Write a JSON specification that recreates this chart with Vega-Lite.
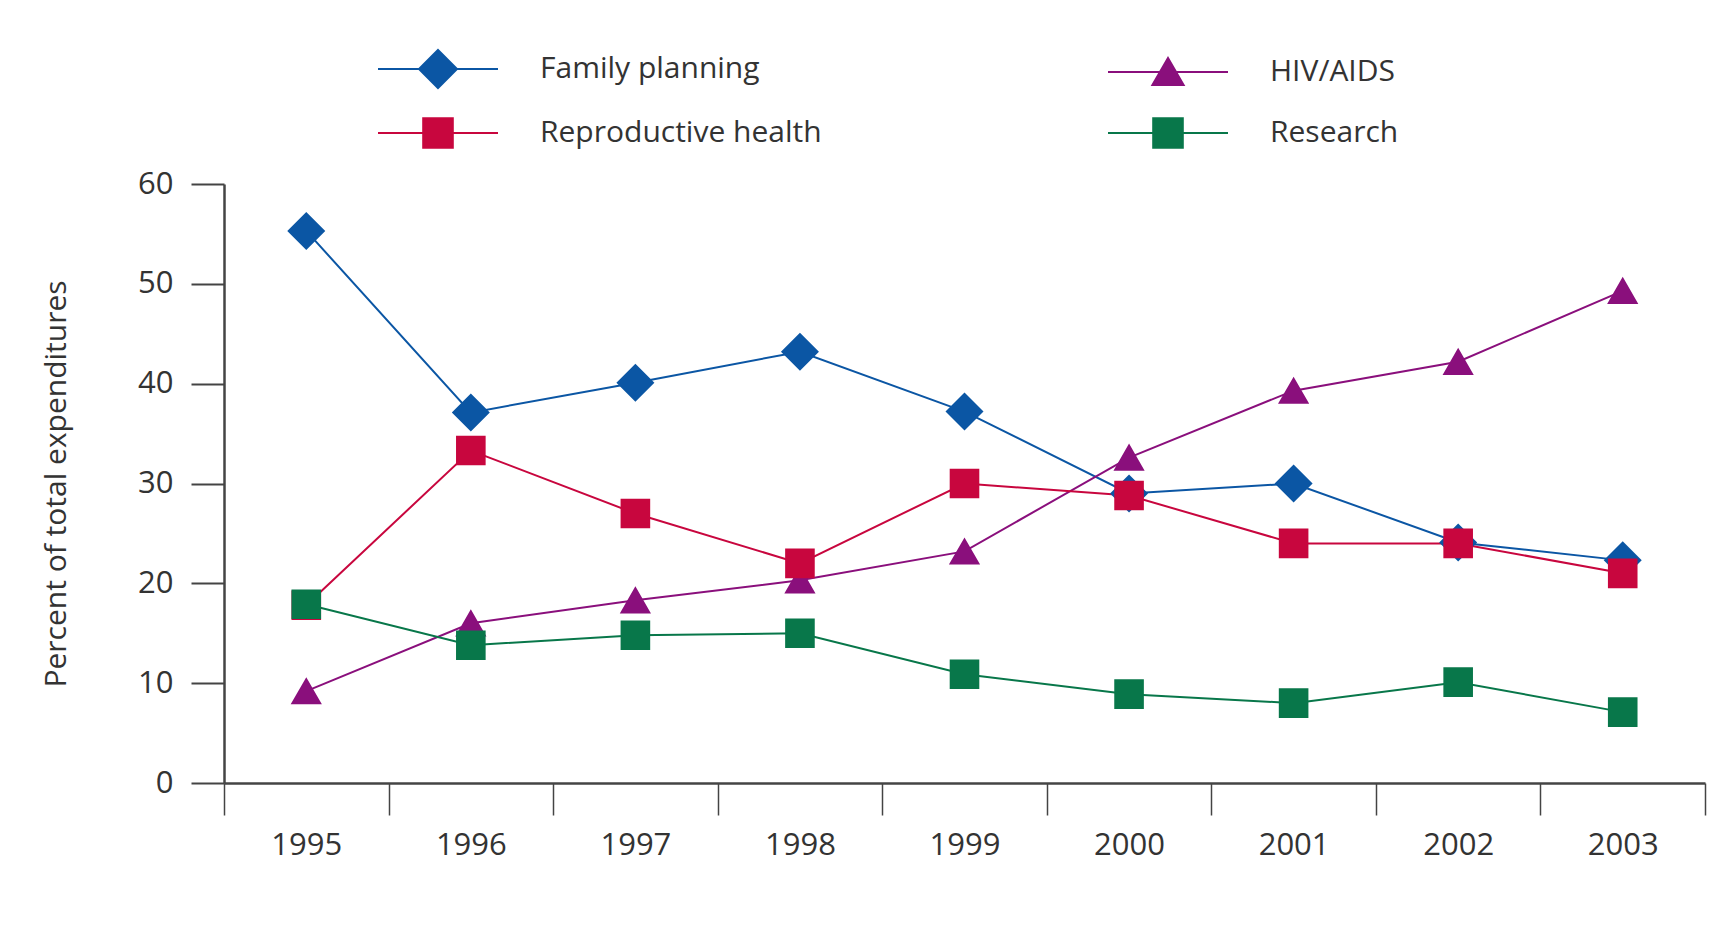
{
  "$schema": "https://vega.github.io/schema/vega-lite/v6.json",
  "width": 1481,
  "height": 599,
  "autosize": {"type": "none"},
  "padding": {"left": 224, "top": 184, "right": 28, "bottom": 150},
  "background": "white",
  "config": {"view": {"stroke": null}, "font": "Open Sans"},
  "data": {
    "values": [
      {"year": "1995", "series": "Family planning", "value": 55.3},
      {"year": "1996", "series": "Family planning", "value": 37.1},
      {"year": "1997", "series": "Family planning", "value": 40.1},
      {"year": "1998", "series": "Family planning", "value": 43.2},
      {"year": "1999", "series": "Family planning", "value": 37.2},
      {"year": "2000", "series": "Family planning", "value": 29.0},
      {"year": "2001", "series": "Family planning", "value": 30.0},
      {"year": "2002", "series": "Family planning", "value": 24.1},
      {"year": "2003", "series": "Family planning", "value": 22.3},
      {"year": "1995", "series": "HIV/AIDS", "value": 9.2},
      {"year": "1996", "series": "HIV/AIDS", "value": 16.0},
      {"year": "1997", "series": "HIV/AIDS", "value": 18.3},
      {"year": "1998", "series": "HIV/AIDS", "value": 20.3},
      {"year": "1999", "series": "HIV/AIDS", "value": 23.2},
      {"year": "2000", "series": "HIV/AIDS", "value": 32.6},
      {"year": "2001", "series": "HIV/AIDS", "value": 39.3},
      {"year": "2002", "series": "HIV/AIDS", "value": 42.2},
      {"year": "2003", "series": "HIV/AIDS", "value": 49.3},
      {"year": "1995", "series": "Reproductive health", "value": 17.8},
      {"year": "1996", "series": "Reproductive health", "value": 33.3},
      {"year": "1997", "series": "Reproductive health", "value": 27.0},
      {"year": "1998", "series": "Reproductive health", "value": 22.0},
      {"year": "1999", "series": "Reproductive health", "value": 30.0},
      {"year": "2000", "series": "Reproductive health", "value": 28.8},
      {"year": "2001", "series": "Reproductive health", "value": 24.0},
      {"year": "2002", "series": "Reproductive health", "value": 24.0},
      {"year": "2003", "series": "Reproductive health", "value": 21.0},
      {"year": "1995", "series": "Research", "value": 17.9},
      {"year": "1996", "series": "Research", "value": 13.8},
      {"year": "1997", "series": "Research", "value": 14.8},
      {"year": "1998", "series": "Research", "value": 15.0},
      {"year": "1999", "series": "Research", "value": 10.9},
      {"year": "2000", "series": "Research", "value": 8.9},
      {"year": "2001", "series": "Research", "value": 8.0},
      {"year": "2002", "series": "Research", "value": 10.1},
      {"year": "2003", "series": "Research", "value": 7.1}
    ]
  },
  "encoding": {
    "x": {
      "field": "year",
      "type": "ordinal",
      "scale": {"type": "band", "paddingInner": 0, "paddingOuter": 0},
      "axis": {
        "title": null,
        "tickBand": "extent",
        "labelAngle": 0,
        "tickSize": 32,
        "tickColor": "#444444",
        "tickWidth": 1.5,
        "domainColor": "#444444",
        "domainWidth": 2.5,
        "labelFont": "Open Sans",
        "labelFontSize": 31,
        "labelColor": "#333333",
        "labelPadding": 15
      }
    },
    "y": {
      "field": "value",
      "type": "quantitative",
      "scale": {"domain": [0, 60]},
      "axis": {
        "title": "Percent of total expenditures",
        "values": [0, 10, 20, 30, 40, 50, 60],
        "grid": false,
        "tickSize": 33,
        "tickColor": "#444444",
        "tickWidth": 2,
        "domainColor": "#444444",
        "domainWidth": 2.5,
        "labelFont": "Open Sans",
        "labelFontSize": 31,
        "labelColor": "#333333",
        "labelPadding": 18,
        "titleFont": "Open Sans",
        "titleFontSize": 30,
        "titleFontWeight": "normal",
        "titleColor": "#333333",
        "titlePadding": 66
      }
    },
    "color": {
      "field": "series",
      "type": "nominal",
      "scale": {
        "domain": ["Family planning", "HIV/AIDS", "Reproductive health", "Research"],
        "range": ["#0b56a4", "#8a0f7c", "#c8063e", "#08774a"]
      },
      "legend": {
        "orient": "none",
        "legendX": 193,
        "legendY": -136,
        "direction": "horizontal",
        "columns": 2,
        "title": null,
        "columnPadding": 282,
        "rowPadding": 20,
        "symbolSize": 1600,
        "symbolStrokeWidth": 2,
        "labelFont": "Open Sans",
        "labelFontSize": 30,
        "labelOffset": 81,
        "labelLimit": 500,
        "labelColor": "#333333"
      }
    }
  },
  "layer": [
    {
      "mark": {"type": "line", "strokeWidth": 2}
    },
    {
      "mark": {"type": "point", "filled": true, "opacity": 1, "size": 1600},
      "encoding": {
        "shape": {
          "field": "series",
          "type": "nominal",
          "scale": {
            "domain": ["Family planning", "HIV/AIDS", "Reproductive health", "Research"],
            "range": [
              "M-3,0H3M0,-0.95L0.95,0L0,0.95L-0.95,0Z",
              "M-3,0H3M0,-0.7L0.78,0.66H-0.78Z",
              "M-3,0H3M-0.74,-0.74H0.74V0.74H-0.74Z",
              "M-3,0H3M-0.74,-0.74H0.74V0.74H-0.74Z"
            ]
          },
          "legend": {
            "orient": "none",
            "legendX": 193,
            "legendY": -136,
            "direction": "horizontal",
            "columns": 2,
            "title": null,
            "columnPadding": 282,
            "rowPadding": 20,
            "symbolSize": 1600,
            "symbolStrokeWidth": 2,
            "labelFont": "Open Sans",
            "labelFontSize": 30,
            "labelOffset": 81,
            "labelLimit": 500,
            "labelColor": "#333333"
          }
        }
      }
    }
  ]
}
